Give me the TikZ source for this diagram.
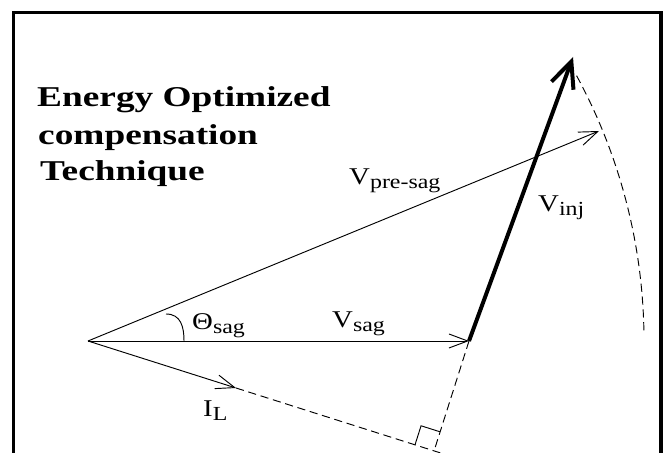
\documentclass[tikz,border=0pt]{standalone}
\usepackage{fontspec}
\setmainfont{Liberation Serif}
\newfontfamily\titlefont[FakeStretch=1.3]{Liberation Serif}
\newfontfamily\lblfont[FakeStretch=1.2]{Liberation Serif}
\usetikzlibrary{arrows.meta, calc}
\newcommand{\phsr}[2]{#1\raisebox{-3pt}{\fontsize{17}{17}\selectfont #2}}

\begin{document}
\begin{tikzpicture}[
  x=0.03cm, y=0.03cm,
  title/.style={anchor=base west, inner sep=0pt,
    font=\titlefont\bfseries\fontsize{24.5}{30}\selectfont},
  lbl/.style={anchor=base west, inner sep=0pt,
    font=\lblfont\fontsize{20.5}{24}\selectfont},
  vec/.style={-{Straight Barb[length=16pt,width=12pt]}, line width=0.8pt},
  injvec/.style={-{Straight Barb[length=22pt,width=20pt]}, line width=3.4pt},
  guide/.style={line width=0.8pt, dash pattern=on 7pt off 4pt},
  frame/.style={line width=2.8pt},
]
\useasboundingbox (0,0) rectangle (665,453);

% outer frame, open at the bottom
\draw[frame] (13.5,-20) -- (13.5,440.5) -- (661,440.5) -- (661,-20);

% phasor end points
\coordinate (O) at (88,112);
\coordinate (S) at (469,112);
\coordinate (T) at (573,396);
\coordinate (P) at (599,322);
\coordinate (I) at (236,65);
\coordinate (F) at ($(O)!(S)!(I)$);
\coordinate (A0) at ($(O)+(28.5:556)$);

\node[title] (t1) at (37,346) {Energy Optimized};
\node[title] (t2) at (38,308) {compensation};
\node[title] (t3) at (40,272) {Technique};

% construction lines
\draw[guide] (A0) arc[start angle=28.5, end angle=1, radius=556];
\draw[guide] (I) -- ($(I)!1.04!(F)$);
\draw[guide] (S) -- (F);
\coordinate (ra1) at ($(F)!0.6cm!(O)$);
\coordinate (ra2) at ($(F)!0.6cm!(S)$);
\draw[line width=0.8pt] (ra1) -- ($(ra1)+(ra2)-(F)$) -- (ra2);

% phasors
\draw[vec] (O) -- (S);
\draw[vec] (O) -- (P);
\draw[vec] (O) -- (I);
\draw[injvec] (S) -- (T);

% angle mark
\draw[line width=0.8pt] (166,139) .. controls (181,139) and (184,126) .. (184,112);

\node[lbl] (vpre) at (349,268) {\phsr{V}{pre-sag}};
\node[lbl] (vinj) at (538,241) {\phsr{V}{inj}};
\node[lbl] (vsag) at (332,125) {\phsr{V}{sag}};
\node[lbl] (th)   at (192,123) {\phsr{Θ}{sag}};
\node[lbl] (il)   at (203,36)  {\phsr{I}{L}};

\end{tikzpicture}
\end{document}
